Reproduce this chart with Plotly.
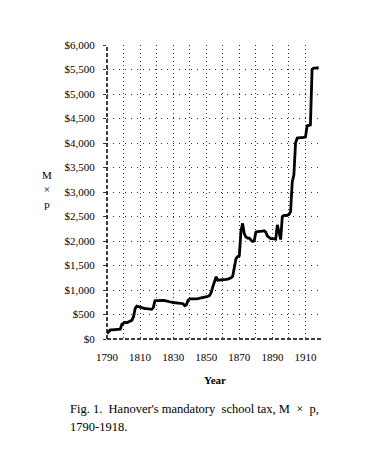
import plotly.graph_objects as go

years = list(range(1790, 1919))
tax = [
    110, 150, 185, 185, 185, 190, 190, 195, 200, 300,   # 1790-1799
    320, 340, 330, 350, 360, 380, 450, 620, 670, 660,   # 1800-1809
    640, 630, 630, 620, 620, 615, 610, 605, 640, 780,   # 1810-1819
    785, 790, 790, 790, 790, 785, 780, 775, 760, 750,   # 1820-1829
    745, 740, 740, 735, 735, 730, 720, 680, 700, 790,   # 1830-1839
    820, 820, 815, 815, 820, 825, 830, 835, 840, 845,   # 1840-1849
    855, 870, 890, 950, 1070, 1180, 1270, 1200, 1200, 1210,  # 1850-1859
    1210, 1210, 1215, 1220, 1230, 1250, 1280, 1450, 1640, 1680,  # 1860-1869
    1700, 2200, 2360, 2150, 2080, 2060, 2060, 2020, 1990, 2000,  # 1870-1879
    2180, 2190, 2190, 2195, 2200, 2210, 2180, 2100, 2070, 2050,  # 1880-1889
    2050, 2040, 2040, 2330, 2180, 2030, 2500, 2520, 2520, 2530,  # 1890-1899
    2540, 2600, 3200, 3350, 4000, 4100, 4110, 4110, 4110, 4110,  # 1900-1909
    4120, 4350, 4360, 4370, 5500, 5530, 5530, 5540, 5540,        # 1910-1918
]
x_tick_years = [1790, 1810, 1830, 1850, 1870, 1890, 1910]
y_tick_values = list(range(0, 6001, 500))
y_tick_labels = ["$" + format(v, ",") for v in y_tick_values]
y_major_grid = list(range(0, 6001, 1000))

FONT = "Liberation Serif"
GRID = "#333"

fig = go.Figure()
fig.add_trace(go.Scatter(
    x=years, y=tax, mode="lines",
    line=dict(color="black", width=2.8),
    showlegend=False, hoverinfo="skip",
))

fig.update_layout(
    width=376, height=444,
    margin=dict(l=99, r=62, t=37, b=113, autoexpand=False),
    paper_bgcolor="white", plot_bgcolor="white",
    font=dict(family=FONT, size=11, color="black"),
    xaxis=dict(
        range=[1790, 1920],
        tickvals=x_tick_years,
        ticktext=[str(v) for v in x_tick_years],
        showgrid=True, gridcolor=GRID, griddash="1px,3px", gridwidth=1,
        minor=dict(dtick=10, tick0=1790, showgrid=True, gridcolor=GRID,
                   griddash="1px,3px", gridwidth=1),
        ticks="", showline=False, zeroline=False,
        ticklabelstandoff=10,
        tickfont=dict(family=FONT, size=11),
    ),
    yaxis=dict(
        range=[0, 6000],
        tickvals=y_tick_values, ticktext=y_tick_labels,
        showgrid=True, gridcolor=GRID, griddash="1px,5px", gridwidth=1,
        ticks="outside", ticklen=3, tickcolor=GRID,
        ticklabelstandoff=6,
        showline=False, zeroline=False,
        tickfont=dict(family=FONT, size=11),
    ),
    yaxis2=dict(
        range=[0, 6000], overlaying="y", matches="y", side="left",
        tickvals=y_major_grid, showticklabels=False, ticks="",
        showgrid=True, gridcolor=GRID, griddash="1px,1px", gridwidth=1,
        showline=False, zeroline=False,
    ),
    shapes=[
        dict(type="line", xref="paper", yref="paper", x0=0, x1=0, y0=0, y1=1,
             line=dict(color="black", width=1.5, dash="4px,2px")),
        dict(type="line", xref="paper", yref="paper", x0=0, x1=1, y0=0, y1=0,
             line=dict(color="black", width=1.5, dash="4px,2px")),
    ],
    annotations=[
        dict(text="M<br>×<br>p", xref="paper", yref="paper",
             x=-0.31, y=0.508, yanchor="middle", showarrow=False, align="center",
             font=dict(family=FONT, size=11)),
        dict(text="<b>Year</b>", xref="paper", yref="paper",
             x=0.502, y=-0.1397, yanchor="middle", showarrow=False,
             font=dict(family=FONT, size=11)),
        dict(text="Fig. 1.  Hanover's mandatory  school tax, M  ×  p,",
             xref="paper", yref="paper", x=-0.181, y=-0.2385, xanchor="left",
             yanchor="middle", showarrow=False, align="left",
             font=dict(family=FONT, size=12.5)),
        dict(text="1790-1918.",
             xref="paper", yref="paper", x=-0.181, y=-0.2998, xanchor="left",
             yanchor="middle", showarrow=False, align="left",
             font=dict(family=FONT, size=12.5)),
    ],
)

fig.write_html("out.html")
